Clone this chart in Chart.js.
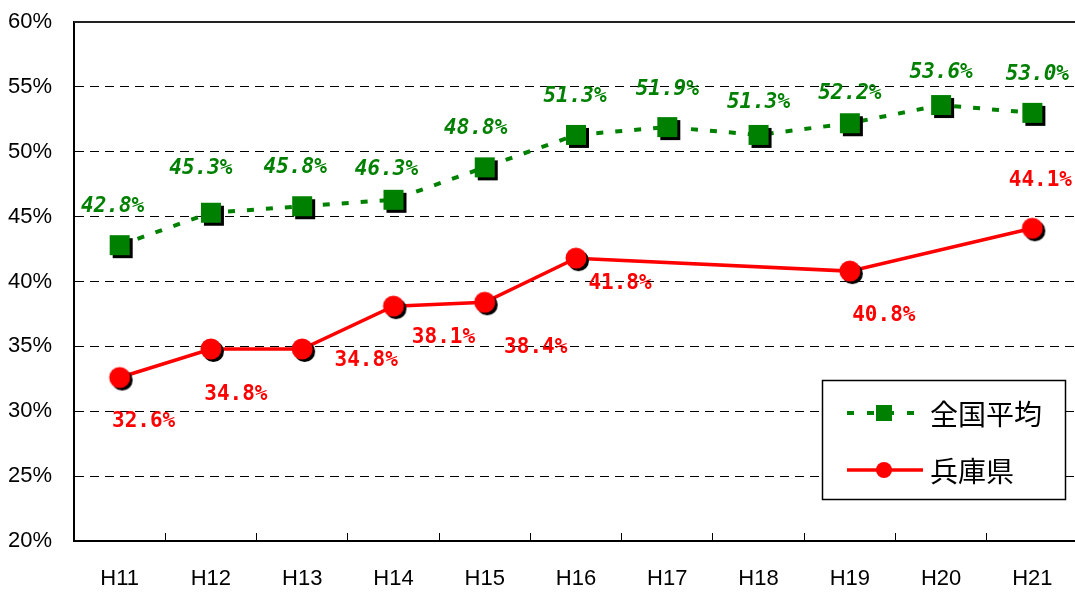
<!DOCTYPE html>
<html>
<head>
<meta charset="utf-8">
<script src="https://cdn.jsdelivr.net/npm/chart.js@4"></script>
<style>
html, body { margin: 0; padding: 0; background: #fff; overflow: hidden; }
#grafico { display: block; }
</style>
</head>
<body>
<canvas id="grafico" width="1080" height="593"></canvas>
<script>
const anios = ['H11', 'H12', 'H13', 'H14', 'H15', 'H16', 'H17', 'H18', 'H19', 'H20', 'H21'];
const promedioNacional = [42.8, 45.3, 45.8, 46.3, 48.8, 51.3, 51.9, 51.3, 52.2, 53.6, 53.0];
const hyogo = [32.6, 34.8, 34.8, 38.1, 38.4, 41.8, null, null, 40.8, null, 44.1];
const ticksY = [20, 25, 30, 35, 40, 45, 50, 55, 60];
const nombres = ['全国平均', '兵庫県'];

// desplazamiento de cada etiqueta respecto a su punto (px)
const despVerde = [[-7, -39], [-10, -44], [-7, -39], [-7, -30], [-9, -39], [-1, -38], [0, -38], [0, -32], [0, -30], [0, -32], [5, -38]];
const despRojo = [[24, 44], [25, 46], [64, 12], [50, 31], [51, 45], [44, 25], null, null, [34, 44], null, [8, -48]];

const verde = '#008000';
const rojo = '#ff0000';

function marcaCuadrada(color) {
    const c = document.createElement('canvas');
    c.width = 28;
    c.height = 28;
    const g = c.getContext('2d');
    g.fillStyle = '#000';
    g.fillRect(7, 7, 20, 20);
    g.fillStyle = color;
    g.fillRect(4, 4, 20, 20);
    return c;
}

function marcaCircular(color) {
    const c = document.createElement('canvas');
    c.width = 28;
    c.height = 28;
    const g = c.getContext('2d');
    g.fillStyle = '#000';
    g.beginPath();
    g.arc(16.5, 16.5, 10.5, 0, Math.PI * 2);
    g.fill();
    g.fillStyle = color;
    g.beginPath();
    g.arc(14, 14, 10.5, 0, Math.PI * 2);
    g.fill();
    return c;
}

const bordeSuperior = {
    id: 'bordeSuperior',
    beforeDatasetsDraw(chart) {
        const ctx = chart.ctx;
        const a = chart.chartArea;
        ctx.save();
        ctx.strokeStyle = '#222';
        ctx.lineWidth = 2;
        ctx.beginPath();
        ctx.moveTo(a.left, a.top);
        ctx.lineTo(a.right, a.top);
        ctx.stroke();
        ctx.restore();
    }
};

const etiquetas = {
    id: 'etiquetas',
    afterDatasetsDraw(chart) {
        const ctx = chart.ctx;
        ctx.save();
        ctx.textAlign = 'center';
        ctx.textBaseline = 'middle';
        chart.data.datasets.forEach(function (ds, i) {
            const meta = chart.getDatasetMeta(i);
            const desp = i === 0 ? despVerde : despRojo;
            ctx.fillStyle = i === 0 ? verde : rojo;
            ctx.font = i === 0 ? 'italic bold 21px "DejaVu Sans Mono"' : 'bold 21px "DejaVu Sans Mono"';
            meta.data.forEach(function (p, j) {
                const v = ds.data[j];
                if (v === null || !desp[j]) return;
                ctx.fillText(v.toFixed(1) + '%', p.x + desp[j][0], p.y + desp[j][1]);
            });
        });
        ctx.restore();
    }
};

const leyenda = {
    id: 'leyenda',
    afterDraw(chart) {
        const ctx = chart.ctx;
        const ds = chart.data.datasets;
        ctx.save();
        ctx.fillStyle = '#fff';
        ctx.fillRect(822, 380, 244, 120);
        ctx.strokeStyle = '#000';
        ctx.lineWidth = 1.5;
        ctx.strokeRect(822.5, 380.5, 243, 119);

        // 全国平均
        ctx.strokeStyle = ds[0].borderColor;
        ctx.lineWidth = 4;
        ctx.setLineDash([7, 13]);
        ctx.beginPath();
        ctx.moveTo(847, 413);
        ctx.lineTo(914, 413);
        ctx.stroke();
        ctx.setLineDash([]);
        ctx.fillStyle = ds[0].borderColor;
        ctx.fillRect(876, 405, 16, 16);

        // 兵庫県
        ctx.strokeStyle = ds[1].borderColor;
        ctx.lineWidth = 3.5;
        ctx.beginPath();
        ctx.moveTo(847, 470);
        ctx.lineTo(923, 470);
        ctx.stroke();
        ctx.fillStyle = ds[1].borderColor;
        ctx.beginPath();
        ctx.arc(884, 470, 8, 0, Math.PI * 2);
        ctx.fill();

        ctx.fillStyle = '#000';
        ctx.font = '28px "Noto Sans CJK JP"';
        ctx.textBaseline = 'middle';
        ctx.fillText(ds[0].label, 930, 414);
        ctx.fillText(ds[1].label, 930, 471);
        ctx.restore();
    }
};

const ctx = document.getElementById('grafico');

new Chart(ctx, {
    type: 'line',
    data: {
        labels: anios,
        datasets: [{
            label: nombres[0],
            data: promedioNacional,
            borderColor: verde,
            backgroundColor: verde,
            borderWidth: 4,
            borderDash: [7, 12],
            pointStyle: marcaCuadrada(verde),
            tension: 0
        }, {
            label: nombres[1],
            data: hyogo,
            borderColor: rojo,
            backgroundColor: rojo,
            borderWidth: 3.5,
            pointStyle: marcaCircular(rojo),
            spanGaps: true,
            tension: 0
        }]
    },
    options: {
        responsive: false,
        animation: false,
        layout: {
            autoPadding: false,
            padding: { top: 22, right: 2, left: 0, bottom: 0 }
        },
        plugins: {
            legend: { display: false },
            tooltip: { enabled: false }
        },
        scales: {
            x: {
                offset: true,
                grid: {
                    offset: true,
                    drawOnChartArea: false,
                    drawTicks: true,
                    tickLength: -8,
                    color: '#000',
                    lineWidth: 1
                },
                border: { display: true, color: '#000', width: 2 },
                ticks: {
                    color: '#000',
                    padding: 33,
                    font: { family: '"Liberation Sans"', size: 22 }
                },
                afterFit: function (scale) {
                    scale.height = 52;
                    scale.paddingLeft = 0;
                    scale.paddingRight = 0;
                }
            },
            y: {
                min: 20,
                max: 60,
                afterBuildTicks: function (scale) {
                    scale.ticks = ticksY.map(function (v) { return { value: v }; });
                },
                grid: {
                    drawTicks: false,
                    color: '#000',
                    lineWidth: 1
                },
                border: { display: true, color: '#000', width: 2, dash: [9, 6] },
                ticks: {
                    color: '#000',
                    padding: 22,
                    font: { family: '"Liberation Sans"', size: 22 },
                    callback: function (v) { return v + '%'; }
                },
                afterFit: function (scale) {
                    scale.width = 74;
                    scale.paddingTop = 0;
                    scale.paddingBottom = 0;
                }
            }
        }
    },
    plugins: [bordeSuperior, etiquetas, leyenda]
});
</script>
</body>
</html>
